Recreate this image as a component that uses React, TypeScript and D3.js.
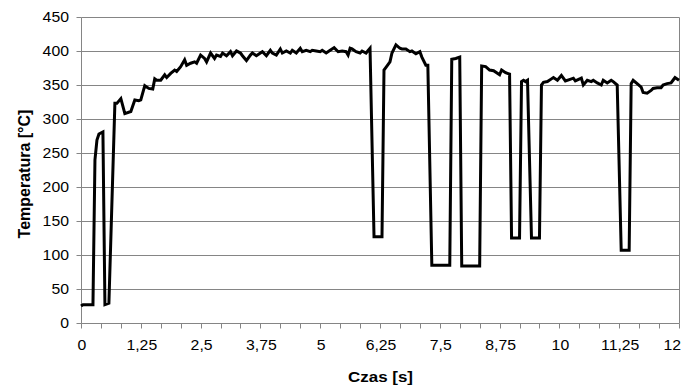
import React from "react";
import * as d3 from "d3";

const WIDTH = 682;
const HEIGHT = 387;
const MARGIN = { top: 17, right: 2, bottom: 64, left: 81 };
const FONT = "'Liberation Sans', Arial, sans-serif";
// the source picture is a bit wider than it is tall, so text is stretched a little
const STRETCH = 1.13;

// Excel-like category axis: 300 samples, a tick every 10, a label every 30
const SAMPLES = 300;
const MINOR_STEP = 10;
const LABEL_STEP = 30;

const sampleIndex = [
  0, 1, 6, 7, 8, 9, 11, 12, 14, 17, 18, 20, 22, 25, 27, 29, 30, 32, 34, 36, 37, 38, 40, 42, 43, 45,
  47, 48, 50, 52, 53, 55, 57, 58, 60, 62, 63, 65, 67, 68, 70, 71, 73, 75, 76, 78, 80, 81, 83, 85,
  86, 88, 90, 91, 93, 95, 96, 98, 100, 101, 103, 105, 106, 108, 110, 111, 113, 115, 116, 118, 120,
  121, 123, 125, 127, 129, 131, 133, 134, 135, 136, 138, 140, 141, 143, 145, 147, 151, 152, 153,
  155, 156, 158, 160, 161, 163, 165, 166, 168, 170, 171, 173, 174, 176, 185, 186, 188, 190, 191,
  200, 201, 203, 205, 207, 210, 211, 213, 215, 216, 220, 221, 222, 223, 224, 226, 230, 231, 232,
  234, 236, 237, 239, 241, 243, 245, 247, 248, 251, 252, 254, 256, 257, 259, 261, 262, 264, 266,
  267, 269, 271, 275, 276, 277, 279, 281, 282, 284, 286, 287, 289, 291, 292, 294, 296, 297, 298, 300,
];

const temperature = [
  25, 27, 27, 240, 269, 278, 281, 27, 29, 323, 323, 330, 308, 311, 328, 327, 328, 349, 345, 344, 359,
  357, 357, 365, 361, 367, 372, 370, 377, 387, 379, 382, 384, 382, 394, 389, 384, 397, 389, 394, 392,
  397, 393, 399, 393, 400, 397, 393, 386, 394, 397, 393, 397, 399, 393, 401, 397, 394, 403, 397, 400,
  397, 401, 397, 404, 399, 401, 399, 401, 400, 399, 401, 397, 401, 405, 399, 400, 399, 394, 404, 403,
  399, 397, 400, 397, 404, 127, 127, 372, 376, 384, 397, 409, 404, 403, 403, 399, 400, 396, 399, 391,
  379, 379, 85, 85, 388, 389, 391, 84, 84, 378, 377, 372, 371, 365, 372, 368, 366, 125, 125, 355, 357,
  355, 357, 125, 125, 350, 354, 355, 359, 361, 357, 364, 356, 358, 360, 356, 360, 350, 357, 355, 357,
  353, 350, 357, 353, 357, 355, 350, 107, 107, 352, 357, 352, 347, 339, 338, 342, 345, 346, 346, 350,
  352, 353, 357, 361, 357,
];

const yTicks = [0, 50, 100, 150, 200, 250, 300, 350, 400, 450];
const xTickLabels = ["0", "1,25", "2,5", "3,75", "5", "6,25", "7,5", "8,75", "10", "11,25", "12"];

const crisp = (v: number) => Math.round(v) + 0.5;

const Label = ({ x, y, anchor, size, bold, children }: any) => (
  <text
    transform={`translate(${x},${y}) scale(${STRETCH},1)`}
    textAnchor={anchor}
    fontSize={size}
    fontWeight={bold ? "bold" : "normal"}
    fontFamily={FONT}
    fill="#000"
  >
    {children}
  </text>
);

export default function App() {
  const left = MARGIN.left;
  const right = WIDTH - MARGIN.right;
  const top = MARGIN.top;
  const bottom = HEIGHT - MARGIN.bottom;

  const xScale = d3.scaleLinear().domain([0, SAMPLES]).range([left, right - 1]);
  const yScale = d3.scaleLinear().domain([0, 450]).range([323, top]);

  const points = sampleIndex.map((s, i) => [s, temperature[i]] as [number, number]);
  const line = d3
    .line<[number, number]>()
    .x((d) => xScale(d[0]))
    .y((d) => yScale(d[1]));

  const minorTicks = d3.range(0, SAMPLES + 1, MINOR_STEP);
  const labelTicks = d3.range(0, SAMPLES + 1, LABEL_STEP);
  const axisY = crisp(yScale(0));
  const axisX = crisp(xScale(0));
  const endX = crisp(xScale(SAMPLES));

  return (
    <svg
      width={WIDTH}
      height={HEIGHT}
      style={{ position: "absolute", left: 0, top: 0, background: "#fff" }}
    >
      {/* grid */}
      {yTicks.slice(1).map((t) => (
        <line
          key={t}
          x1={axisX}
          x2={endX}
          y1={crisp(yScale(t))}
          y2={crisp(yScale(t))}
          stroke="#858585"
          strokeWidth={1}
        />
      ))}
      {/* right border of plot area */}
      <line x1={endX} x2={endX} y1={crisp(yScale(450))} y2={axisY} stroke="#858585" />

      {/* y axis */}
      <line x1={axisX} x2={axisX} y1={crisp(yScale(450))} y2={axisY} stroke="#858585" />
      {yTicks.map((t) => (
        <g key={t}>
          <line x1={axisX - 5} x2={axisX} y1={crisp(yScale(t))} y2={crisp(yScale(t))} stroke="#858585" />
          <Label x={69} y={yScale(t) + 5} anchor="end" size={14}>
            {t}
          </Label>
        </g>
      ))}

      {/* x axis */}
      <line x1={axisX} x2={endX} y1={axisY} y2={axisY} stroke="#858585" />
      {minorTicks.map((s) => (
        <line
          key={s}
          x1={crisp(xScale(s))}
          x2={crisp(xScale(s))}
          y1={axisY}
          y2={axisY + 5}
          stroke="#858585"
        />
      ))}
      {labelTicks.map((s, i) => {
        const last = i === labelTicks.length - 1;
        return (
          <Label
            key={s}
            x={last ? WIDTH - 1 : xScale(s) + 1}
            y={350}
            anchor={last ? "end" : "middle"}
            size={14}
          >
            {xTickLabels[i]}
          </Label>
        );
      })}

      {/* series */}
      <path d={line(points) || ""} fill="none" stroke="#000" strokeWidth={3} />

      {/* titles */}
      <Label x={(left + right) / 2} y={382} anchor="middle" size={15} bold>
        Czas [s]
      </Label>
      <text
        transform={`translate(30,${(top + bottom) / 2 + 4}) rotate(-90)`}
        textAnchor="middle"
        fontSize={16}
        fontWeight="bold"
        fontFamily={FONT}
      >
        Temperatura [°C]
      </text>
    </svg>
  );
}
